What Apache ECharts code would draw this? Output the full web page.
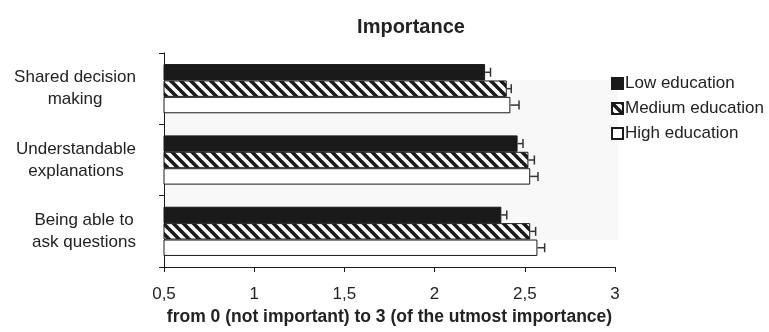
<!DOCTYPE html>
<html>
<head>
<meta charset="utf-8">
<script src="https://cdn.jsdelivr.net/npm/echarts@6/dist/echarts.min.js"></script>
<style>
  html, body { margin: 0; padding: 0; background: #fff; }
  #chart { width: 769px; height: 332px; }
</style>
</head>
<body>
<div id="chart"></div>
<script>
// ---- data ----
const categories = ['Shared decision\nmaking', 'Understandable\nexplanations', 'Being able to\nask questions'];
const seriesNames = ['Low education', 'Medium education', 'High education'];
const lowValues = [2.28, 2.46, 2.37];
const mediumValues = [2.40, 2.52, 2.53];
const highValues = [2.42, 2.53, 2.57];
const lowErrors = [0.03, 0.03, 0.03];
const mediumErrors = [0.025, 0.033, 0.03];
const highErrors = [0.048, 0.043, 0.04];
const xTicks = [0.5, 1, 1.5, 2, 2.5, 3];
const titleText = 'Importance';
const xAxisTitle = 'from 0 (not important) to 3 (of the utmost importance)';

// ---- hatch pattern ----
function makeHatch() {
  const s = 10;
  const c = document.createElement('canvas');
  c.width = s; c.height = s;
  const ctx = c.getContext('2d');
  ctx.fillStyle = '#ffffff';
  ctx.fillRect(0, 0, s, s);
  ctx.strokeStyle = '#1a1a1a';
  ctx.lineWidth = 3.6;
  for (const off of [-s, 0, s]) {
    ctx.beginPath();
    ctx.moveTo(off - 1, -1);
    ctx.lineTo(off + s + 1, s + 1);
    ctx.stroke();
  }
  return c;
}
const hatch = makeHatch();

const allValues = [lowValues, mediumValues, highValues];
const allErrors = [lowErrors, mediumErrors, highErrors];
const fills = ['#1a1a1a', { image: hatch, repeat: 'repeat' }, '#ffffff'];
const CAT_GAP = 0.31;

const barSeries = seriesNames.map((name, i) => ({
  name: name,
  type: 'bar',
  data: allValues[i],
  barGap: 0,
  barCategoryGap: (CAT_GAP * 100) + '%',
  itemStyle: { color: fills[i], borderColor: '#1a1a1a', borderWidth: 1 },
  emphasis: { disabled: true },
  z: 2
}));

const errData = [];
for (let s = 0; s < 3; s++) {
  for (let c = 0; c < categories.length; c++) {
    errData.push([c, s, allValues[s][c], allErrors[s][c]]);
  }
}

const errorSeries = {
  type: 'custom',
  name: 'err',
  data: errData,
  encode: { x: 2, y: 0 },
  z: 5,
  silent: true,
  renderItem: function (params, api) {
    const cat = api.value(0), s = api.value(1), v = api.value(2), e = api.value(3);
    const p0 = api.coord([v, cat]);
    const p1 = api.coord([v + e, cat]);
    const band = api.size([0, 1])[1];
    const bw = band * (1 - CAT_GAP) / 3;
    const y = p0[1] + (s - 1) * bw;
    const capH = 4.5;
    const st = { stroke: '#333', lineWidth: 1.5 };
    return {
      type: 'group',
      children: [
        { type: 'line', shape: { x1: p0[0], y1: y, x2: p1[0], y2: y }, style: st },
        { type: 'line', shape: { x1: p1[0], y1: y - capH, x2: p1[0], y2: y + capH }, style: st }
      ]
    };
  }
};

const chart = echarts.init(document.getElementById('chart'), null, { renderer: 'canvas' });
const FONT = 'Liberation Sans, Arial, sans-serif';

chart.setOption({
  animation: false,
  backgroundColor: '#ffffff',
  textStyle: { fontFamily: FONT },
  title: {
    text: titleText,
    left: 406,
    textAlign: 'center',
    top: 12,
    textStyle: { fontSize: 20, fontWeight: 'bold', color: '#222', fontFamily: FONT }
  },
  graphic: [{
    type: 'rect',
    z: -10,
    shape: { x: 165, y: 80, width: 453, height: 160 },
    style: { fill: '#f8f8f8' }
  }],
  legend: {
    data: seriesNames,
    orient: 'vertical',
    left: 606,
    top: 70,
    itemWidth: 11,
    itemHeight: 11,
    itemGap: 8,
    icon: 'rect',
    selectedMode: false,
    textStyle: { fontSize: 17, color: '#222', fontFamily: FONT, padding: [0, 0, 0, -3] }
  },
  grid: { left: 164, right: 154, top: 53, bottom: 65, containLabel: false, outerBoundsMode: 'none' },
  xAxis: {
    type: 'value',
    min: xTicks[0],
    max: xTicks[xTicks.length - 1],
    interval: xTicks[1] - xTicks[0],
    splitLine: { show: false },
    axisLine: { show: true, lineStyle: { color: '#1a1a1a', width: 1 } },
    axisTick: { show: true, length: 5, inside: false, lineStyle: { color: '#1a1a1a' } },
    axisLabel: {
      margin: 19,
      fontSize: 17,
      color: '#222',
      fontFamily: FONT,
      formatter: v => String(v).replace('.', ',')
    },
    name: xAxisTitle,
    nameLocation: 'middle',
    nameGap: 39,
    nameTextStyle: { fontSize: 17.5, fontWeight: 'bold', color: '#222', fontFamily: FONT }
  },
  yAxis: {
    type: 'category',
    data: categories,
    inverse: true,
    axisLine: { show: true, lineStyle: { color: '#1a1a1a', width: 1 } },
    axisTick: { show: true, length: 5, lineStyle: { color: '#1a1a1a' } },
    axisLabel: {
      align: 'right',
      margin: 28,
      fontSize: 17,
      lineHeight: 22,
      color: '#222',
      fontFamily: FONT,
      formatter: v => v.split('\n').map(l => '{c|' + l + '}').join('\n'),
      rich: {
        c: { align: 'center', fontSize: 17, lineHeight: 22, color: '#222', fontFamily: FONT }
      }
    },
    splitLine: { show: false }
  },
  series: [...barSeries, errorSeries]
});
</script>
</body>
</html>
